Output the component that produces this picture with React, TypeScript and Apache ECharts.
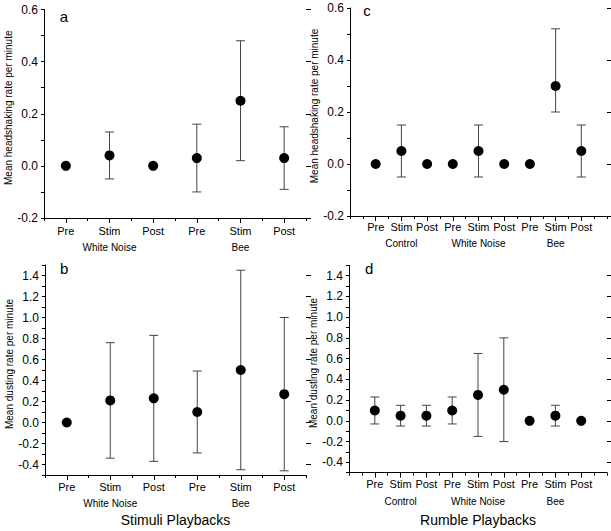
import React, { useEffect, useRef } from "react";
import * as echarts from "echarts";

// ---- data ----
const stimCategories = ["Pre", "Stim", "Post", "Pre", "Stim", "Post"];
const stimGroups = ["White Noise", "Bee"];
const rumbleCategories = ["Pre", "Stim", "Post", "Pre", "Stim", "Post", "Pre", "Stim", "Post"];
const rumbleGroups = ["Control", "White Noise", "Bee"];

const headTicks = [-0.2, 0, 0.2, 0.4, 0.6];
const dustTicks = [-0.4, -0.2, 0, 0.2, 0.4, 0.6, 0.8, 1.0, 1.2, 1.4];

// a: headshaking, stimuli playbacks
const headStimMean = [0, 0.04, 0, 0.03, 0.25, 0.03];
const headStimLow = [null, -0.05, null, -0.1, 0.02, -0.09];
const headStimHigh = [null, 0.13, null, 0.16, 0.48, 0.15];
// b: dusting, stimuli playbacks
const dustStimMean = [0, 0.21, 0.23, 0.1, 0.5, 0.27];
const dustStimLow = [null, -0.34, -0.37, -0.29, -0.45, -0.46];
const dustStimHigh = [null, 0.76, 0.83, 0.49, 1.45, 1.0];
// c: headshaking, rumble playbacks
const headRumMean = [0, 0.05, 0, 0, 0.05, 0, 0, 0.3, 0.05];
const headRumLow = [null, -0.05, null, null, -0.05, null, null, 0.2, -0.05];
const headRumHigh = [null, 0.15, null, null, 0.15, null, null, 0.52, 0.15];
// d: dusting, rumble playbacks
const dustRumMean = [0.1, 0.05, 0.05, 0.1, 0.25, 0.3, 0, 0.05, 0];
const dustRumLow = [-0.03, -0.05, -0.05, -0.03, -0.15, -0.2, null, -0.05, null];
const dustRumHigh = [0.23, 0.15, 0.15, 0.23, 0.65, 0.8, null, 0.15, null];

const FONT = "'Liberation Sans', Arial, sans-serif";
const BLACK = "#000";

function xAxesFor(gridIndex: number, cats: string[], groups: string[], min: number, max: number, lh: number, margin: number, name?: string, nameGap?: number) {
  const majors = cats.map((_, i) => i + 1);
  const fmt = (v: number) => {
    if (Math.abs(v - Math.round(v)) > 1e-6) return "";
    const idx = Math.round(v) - 1;
    if (idx < 0 || idx >= cats.length) return "";
    if (idx % 3 === 1) return `{t|${cats[idx]}}\n{g|${groups[Math.floor(idx / 3)]}}`;
    return `{t|${cats[idx]}}`;
  };
  return [
    {
      type: "value", gridIndex, min, max, interval: 0.5, position: "bottom",
      axisLine: { show: true, onZero: false, lineStyle: { color: BLACK, width: 1 } },
      axisTick: { show: true, length: 3, lineStyle: { color: BLACK } },
      axisLabel: { show: false },
      splitLine: { show: false },
    },
    {
      type: "value", gridIndex, min, max, interval: 0.5, position: "bottom",
      axisLine: { show: false, onZero: false },
      axisTick: { show: true, length: 5, customValues: majors, lineStyle: { color: BLACK } },
      axisLabel: {
        show: true, customValues: majors, margin, formatter: fmt,
        rich: {
          t: { fontSize: 11, lineHeight: lh, color: BLACK, fontFamily: FONT },
          g: { fontSize: 10, lineHeight: lh, color: BLACK, fontFamily: FONT },
        },
      },
      splitLine: { show: false },
      name: name || "", nameLocation: "middle", nameGap: nameGap || 0,
      nameTextStyle: { fontSize: 14, color: BLACK, fontFamily: FONT },
    },
  ];
}

function yAxesFor(gridIndex: number, min: number, max: number, ticks: number[], name: string, nameGap: number) {
  const isTick = (v: number) => ticks.some((t) => Math.abs(t - v) < 1e-6);
  return [
    {
      type: "value", gridIndex, min, max, interval: 0.1,
      axisLine: { show: true, onZero: false, lineStyle: { color: BLACK, width: 1 } },
      axisTick: { show: true, length: 3, lineStyle: { color: BLACK } },
      axisLabel: {
        show: true, margin: 6, fontSize: 12, color: BLACK, fontFamily: FONT,
        formatter: (v: number) => (isTick(v) ? v.toFixed(1) : ""),
      },
      splitLine: { show: false },
      name, nameLocation: "middle", nameGap,
      nameTextStyle: { fontSize: 10, color: BLACK, fontFamily: FONT, padding: [0, 0, 0, 12] },
    },
    {
      type: "value", gridIndex, min, max, interval: 0.1,
      axisLine: { show: false, onZero: false },
      axisTick: { show: true, length: 5, customValues: ticks, lineStyle: { color: BLACK } },
      axisLabel: { show: false },
      splitLine: { show: false },
    },
  ];
}

function seriesFor(xAxisIndex: number, yAxisIndex: number, mean: number[], low: (number | null)[], high: (number | null)[]) {
  const barData: number[][] = [];
  mean.forEach((_, i) => {
    if (low[i] !== null && high[i] !== null) barData.push([i + 1, low[i] as number, high[i] as number]);
  });
  return [
    {
      type: "custom", xAxisIndex, yAxisIndex, data: barData, z: 2,
      encode: { x: 0, y: [1, 2] },
      renderItem: (params: any, api: any) => {
        const x = api.value(0);
        const pLo = api.coord([x, api.value(1)]);
        const pHi = api.coord([x, api.value(2)]);
        const hw = 4.5;
        const st = { stroke: "#444", lineWidth: 1 };
        return {
          type: "group",
          children: [
            { type: "line", shape: { x1: pLo[0], y1: pLo[1], x2: pHi[0], y2: pHi[1] }, style: st },
            { type: "line", shape: { x1: pLo[0] - hw, y1: pLo[1], x2: pLo[0] + hw, y2: pLo[1] }, style: st },
            { type: "line", shape: { x1: pHi[0] - hw, y1: pHi[1], x2: pHi[0] + hw, y2: pHi[1] }, style: st },
          ],
        };
      },
    },
    {
      type: "scatter", xAxisIndex, yAxisIndex, z: 3,
      symbol: "circle", symbolSize: 10,
      itemStyle: { color: "#000", opacity: 1 },
      data: mean.map((m, i) => [i + 1, m]),
    },
  ];
}

export default function App() {
  const ref = useRef<HTMLDivElement>(null);
  useEffect(() => {
    if (!ref.current) return;
    const chart = echarts.init(ref.current, undefined, { renderer: "svg" });
    const letter = (text: string, x: number, y: number) => ({
      type: "text", x, y,
      style: { text, fontSize: 15, fontFamily: FONT, fill: BLACK, verticalAlign: "middle", align: "left" },
    });
    chart.setOption({
      animation: false,
      backgroundColor: "#fff",
      grid: [
        { left: 44, top: 9.5, width: 262, height: 208.5 },
        { left: 45, top: 265, width: 261, height: 210 },
        { left: 350, top: 8, width: 257, height: 208 },
        { left: 349, top: 265.3, width: 258, height: 207.4 },
      ],
      xAxis: [
        ...xAxesFor(0, stimCategories, stimGroups, 0.5, 6.5, 17, 4),
        ...xAxesFor(1, stimCategories, stimGroups, 0.5, 6.5, 17, 3, "Stimuli Playbacks", 38),
        ...xAxesFor(2, rumbleCategories, rumbleGroups, 0, 10, 16, 3),
        ...xAxesFor(3, rumbleCategories, rumbleGroups, 0, 10, 17, 3, "Rumble Playbacks", 40),
      ],
      yAxis: [
        ...yAxesFor(0, -0.2, 0.6, headTicks, "Mean headshaking rate per minute", 30),
        ...yAxesFor(1, -0.5, 1.5, dustTicks, "Mean dusting rate per minute", 31),
        ...yAxesFor(2, -0.2, 0.6, headTicks, "Mean headshaking rate per minute", 29),
        ...yAxesFor(3, -0.5, 1.5, dustTicks, "Mean dusting rate per minute", 30),
      ],
      series: [
        ...seriesFor(0, 0, headStimMean, headStimLow, headStimHigh),
        ...seriesFor(2, 2, dustStimMean, dustStimLow, dustStimHigh),
        ...seriesFor(4, 4, headRumMean, headRumLow, headRumHigh),
        ...seriesFor(6, 6, dustRumMean, dustRumLow, dustRumHigh),
      ],
      graphic: [
        letter("a", 59.7, 16.9),
        letter("b", 60, 268.5),
        letter("c", 363.3, 10.2),
        letter("d", 365, 268.5),
      ],
    });
    return () => chart.dispose();
  }, []);
  return (
    <div
      ref={ref}
      style={{ position: "fixed", left: 0, top: 0, width: 611, height: 531, background: "#fff" }}
    />
  );
}
